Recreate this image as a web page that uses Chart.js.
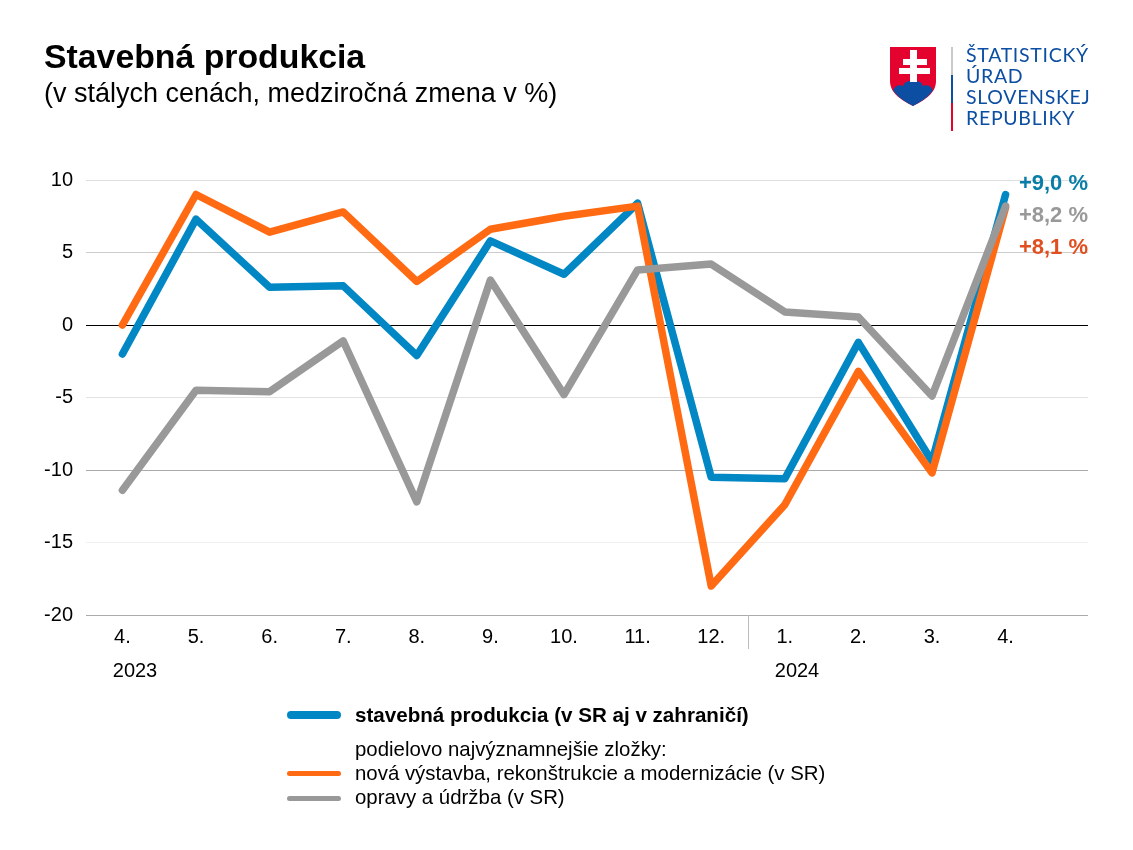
<!DOCTYPE html>
<html lang="sk">
<head>
<meta charset="utf-8">
<title>Stavebná produkcia</title>
<script src="https://cdn.jsdelivr.net/npm/chart.js@4"></script>
<style>
html, body { margin: 0; padding: 0; background: #fff; }
body { width: 1133px; height: 850px; position: relative; overflow: hidden; font-family: "Liberation Sans", Arial, sans-serif; color: #000; }
canvas { position: absolute; left: 0; top: 0; }
.abs { position: absolute; white-space: nowrap; }
#title { left: 44px; top: 36px; font-size: 33.8px; font-weight: bold; line-height: 40px; }
#sub { left: 44px; top: 77px; font-size: 27px; line-height: 32px; }
.org { left: 966px; font-family: Lato, sans-serif; font-size: 19.5px; line-height: 21px; letter-spacing: 0.7px; color: #0b4ea2; }
.bar { position: absolute; left: 951px; width: 2px; }
.sw { position: absolute; left: 287px; width: 54px; border-radius: 4px; }
.lg { left: 355px; font-size: 20.4px; line-height: 24px; }
</style>
</head>
<body>
<canvas id="chart" width="1133" height="850"></canvas>

<div class="abs" id="title">Stavebná produkcia</div>
<div class="abs" id="sub">(v stálych cenách, medziročná zmena v %)</div>

<svg class="abs" style="left:888px;top:45px" width="50" height="64" viewBox="0 0 50 64">
  <path d="M2 2H48V36C48 48 37 55 25 61C13 55 2 48 2 36Z" fill="#e4032e"/>
  <path d="M5 45C7 41 11 39 15 41C17 36 20 36 25 36C30 36 33 36 35 41C39 39 43 41 45 45C40 53 32 57 25 61C18 57 10 53 5 45Z" fill="#0b4ea2"/>
  <path d="M22 5H29V14H39V20H29V23H42V29H29V37H22V29H11V23H22V20H15V14H22Z" fill="#fff"/>
</svg>
<div class="bar" style="top:47px;height:28px;background:#c9c9c9"></div>
<div class="bar" style="top:75px;height:28px;background:#0b4ea2"></div>
<div class="bar" style="top:103px;height:28px;background:#e4032e"></div>
<div class="abs org" style="top:44px">ŠTATISTICKÝ</div>
<div class="abs org" style="top:65px">ÚRAD</div>
<div class="abs org" style="top:86px">SLOVENSKEJ</div>
<div class="abs org" style="top:107px">REPUBLIKY</div>

<div class="sw" style="top:711px;height:8px;background:#0087c4"></div>
<div class="abs lg" style="top:703px;font-weight:bold;font-size:20.6px">stavebná produkcia (v SR aj v zahraničí)</div>
<div class="abs lg" style="top:737px">podielovo najvýznamnejšie zložky:</div>
<div class="sw" style="top:771px;height:5px;background:#ff6a13"></div>
<div class="abs lg" style="top:761px">nová výstavba, rekonštrukcie a modernizácie (v SR)</div>
<div class="sw" style="top:796px;height:5px;background:#999999"></div>
<div class="abs lg" style="top:785px">opravy a údržba (v SR)</div>

<script>
const months = ['4.', '5.', '6.', '7.', '8.', '9.', '10.', '11.', '12.', '1.', '2.', '3.', '4.'];
const production = [-2.0, 7.3, 2.6, 2.7, -2.1, 5.8, 3.5, 8.4, -10.5, -10.6, -1.2, -9.4, 9.0];
const newBuild = [0.0, 9.0, 6.4, 7.8, 3.0, 6.6, 7.5, 8.2, -18.0, -12.4, -3.2, -10.2, 8.1];
const repairs = [-11.4, -4.5, -4.6, -1.1, -12.2, 3.1, -4.8, 3.8, 4.2, 0.9, 0.55, -4.9, 8.2];
const yTicks = [10, 5, 0, -5, -10, -15, -20];
const endLabels = ['+9,0 %', '+8,2 %', '+8,1 %'];
const endColors = ['#0a7ea8', '#999999', '#df4f1f'];
const gridColors = { '10': '#dedede', '5': '#cccccc', '0': '#000000', '-5': '#e2e2e2', '-10': '#aaaaaa', '-15': '#f0f0f0', '-20': '#aaaaaa' };

const toPoints = vals => vals.map((v, i) => ({ x: i, y: v }));

// years, the 2023/2024 divider and the end labels
const extras = {
  id: 'extras',
  afterDraw(chart) {
    const c = chart.ctx, xs = chart.scales.x, bottom = chart.chartArea.bottom;
    c.save();
    const sep = Math.round(xs.getPixelForValue(8.5)) + 0.5;
    c.strokeStyle = '#bbbbbb';
    c.lineWidth = 1;
    c.beginPath();
    c.moveTo(sep, bottom);
    c.lineTo(sep, bottom + 34);
    c.stroke();

    c.font = '20px "Liberation Sans", Arial, sans-serif';
    c.fillStyle = '#000';
    c.textAlign = 'center';
    c.textBaseline = 'middle';
    c.fillText('2023', 135, 671);
    c.fillText('2024', 797, 671);

    c.font = 'bold 22px "Liberation Sans", Arial, sans-serif';
    c.textAlign = 'right';
    endLabels.forEach((t, i) => {
      c.fillStyle = endColors[i];
      c.fillText(t, 1088, 184 + i * 32);
    });
    c.restore();
  }
};

new Chart(document.getElementById('chart'), {
  type: 'line',
  data: {
    datasets: [
      { label: 'stavebná produkcia', data: toPoints(production), borderColor: '#0087c4', order: 3 },
      { label: 'nová výstavba', data: toPoints(newBuild), borderColor: '#ff6a13', order: 2 },
      { label: 'opravy a údržba', data: toPoints(repairs), borderColor: '#999999', order: 1 }
    ]
  },
  options: {
    responsive: false,
    animation: false,
    devicePixelRatio: 1,
    layout: { padding: { top: 180, right: 45, bottom: 0, left: 0 } },
    elements: {
      point: { radius: 0 },
      line: { borderWidth: 7.5, tension: 0, borderCapStyle: 'round', borderJoinStyle: 'round' }
    },
    plugins: { legend: { display: false }, tooltip: { enabled: false } },
    scales: {
      x: {
        type: 'linear',
        min: -0.495,
        max: 13.12,
        afterBuildTicks(axis) { axis.ticks = months.map((m, i) => ({ value: i })); },
        afterFit(axis) { axis.height = 235; },
        grid: { display: false },
        border: { display: false },
        ticks: {
          autoSkip: false,
          maxRotation: 0,
          padding: 2,
          color: '#000',
          font: { family: '"Liberation Sans", Arial, sans-serif', size: 20 },
          callback: v => months[v]
        }
      },
      y: {
        min: -20,
        max: 10,
        afterBuildTicks(axis) { axis.ticks = yTicks.map(v => ({ value: v })); },
        afterFit(axis) { axis.width = 86; },
        grid: {
          drawTicks: false,
          lineWidth: 1,
          color: ctx => gridColors[String(ctx.tick.value)]
        },
        border: { display: false },
        ticks: {
          padding: 13,
          color: '#000',
          font: { family: '"Liberation Sans", Arial, sans-serif', size: 20 },
          callback: v => String(v)
        }
      }
    }
  },
  plugins: [extras]
});
</script>
</body>
</html>
